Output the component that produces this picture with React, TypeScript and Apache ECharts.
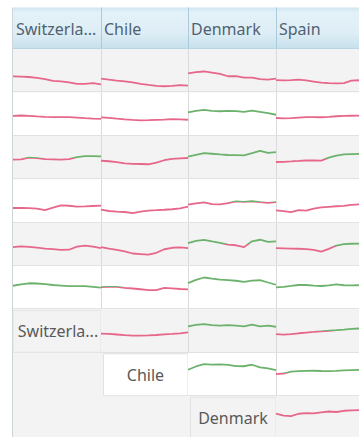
import { useEffect, useRef } from "react";
import * as echarts from "echarts";

const countries = ["Switzerland", "Chile", "Denmark", "Spain"];

// Sparkline levels (0-100 within their row), one list per row, per column country
const switzerlandLines = [
  [37, 36.3, 35.5, 33.5, 30.5, 26.5, 25.3, 23, 19.5, 19.8, 21.5, 18.6],
  [46, 46.8, 46, 44.8, 43.8, 43, 43, 43, 42, 40.8, 39.8, 39],
  [45, 45.5, 49.5, 48.7, 46.4, 45.8, 45.2, 46.2, 51, 53, 53.2, 52.7],
  [33.6, 33.6, 33.3, 32.4, 29, 34.5, 39.7, 38.8, 36.6, 37.3, 38.2, 38.9],
  [43.7, 45, 44.2, 42.2, 40.2, 39, 37, 37.5, 44.5, 46.8, 44.5, 41.4],
  [54.5, 57.8, 60.2, 59.7, 58, 56.2, 54.8, 53.4, 53.5, 53.4, 52, 50],
];
const switzerlandThresholds = [100, 100, 48, 100, 100, 0];

const chileLines = [
  [31.5, 29.2, 27.2, 25.4, 23.3, 19.5, 17.2, 15.1, 14.2, 15, 16.9, 15.4],
  [42.5, 41.4, 39.6, 38, 36.5, 35.7, 36, 36.8, 37.3, 38.6, 38, 37],
  [42.5, 41.4, 39.4, 36.6, 35.5, 35, 34.4, 38, 43.7, 47, 48, 48.8],
  [29.7, 26.7, 25.2, 24.4, 22, 25.5, 27.8, 28.6, 29.6, 30.8, 33, 36.6],
  [43.7, 40, 37.4, 33.5, 28.8, 27.5, 26.2, 30.5, 38.6, 42, 42.8, 41.4],
  [51.5, 52, 51.8, 49.8, 48.2, 46.4, 44.5, 44.2, 49.5, 48.5, 47, 46.2],
  [44, 43.4, 42.2, 40.8, 39.7, 39.5, 40.1, 41, 42.5, 43.5, 44.8, 47.2],
];
const chileThresholds = [100, 100, 100, 100, 100, 51, 100];

const denmarkLines = [
  [44, 46.5, 48.2, 45.5, 42.5, 37.2, 37.5, 34, 34, 30.5, 29.2, 31.5],
  [54, 57.5, 59.8, 57.4, 56.6, 57.2, 57, 55.2, 58, 55, 52, 48.5],
  [51.8, 56, 60, 58.6, 57, 55.8, 55.5, 55, 60, 65.5, 60.5, 62.6],
  [41.2, 44.5, 46.5, 42.8, 41.8, 44.8, 49, 47.8, 49.2, 47.2, 45.5, 47.4],
  [52.9, 58, 60.3, 56.8, 53.5, 49.2, 47.8, 43.5, 57, 60.5, 55.6, 56.8],
  [60.7, 68, 73.5, 71, 68.8, 67.5, 66, 63.2, 66.5, 67.2, 62, 56.8],
  [61, 64.4, 66.2, 64, 62.5, 63.8, 62.5, 60.8, 65, 61, 62.5, 60],
  [61, 68.5, 73.8, 72.8, 73.5, 72, 69.5, 69, 72.5, 66.5, 64, 60.3],
];
const denmarkThresholds = [100, 0, 0, 48.5, 51, 0, 0, 0];

const spainLines = [
  [28.5, 27.9, 28.2, 29.6, 27.5, 25, 22.5, 21.4, 20.9, 21.5, 27, 28],
  [41, 40.3, 40.8, 42, 43, 43, 42.7, 43.8, 45, 45.7, 46.2, 46.5],
  [39.6, 40.1, 41, 42, 43.1, 43.3, 43, 49.5, 54.5, 57.2, 58, 58.3],
  [28.3, 26.5, 24.2, 28.7, 27.6, 32, 35, 36.4, 37.7, 38.5, 41, 42],
  [41.4, 40.8, 40, 39.8, 39, 37, 33, 39.5, 47.2, 50.3, 51.3, 51.5],
  [50.8, 52, 54, 56.2, 56.2, 54.8, 53.9, 55.3, 57.5, 55.6, 55.4, 55.6],
  [43.2, 41.8, 42.8, 45, 46.5, 48, 49.6, 50.8, 52.1, 53.5, 55.3, 56],
  [51, 52.3, 56.5, 57.7, 58.5, 58.6, 58.1, 58, 58.5, 59.5, 60.3, 60.5],
  [57.3, 52.5, 51, 57, 58.7, 57.8, 60.5, 62.5, 61.3, 64.3, 65.5, 66],
];
const spainThresholds = [100, 100, 46, 100, 45, 45, 51, 52.5, 100];

const columnLines = [switzerlandLines, chileLines, denmarkLines, spainLines];
const columnThresholds = [switzerlandThresholds, chileThresholds, denmarkThresholds, spainThresholds];

const RED = "#e6678a";
const GREEN = "#6cb26c";

export default function App() {
  const ref = useRef<HTMLDivElement>(null);

  useEffect(() => {
    if (!ref.current) return;
    const chart = echarts.init(ref.current, undefined, { renderer: "svg" });

    const colX = [13, 101, 188, 276];
    const colW = [88, 87, 88, 88];
    const headerTop = 7.5;
    const bodyTop = 49;
    const rowH = 43.4;
    const rowTop = (r: number) => bodyTop + r * rowH;
    const font = "Noto Sans";
    const yMax = 100;

    const grids: any[] = [];
    const xAxes: any[] = [];
    const yAxes: any[] = [];
    const series: any[] = [];
    const graphics: any[] = [];

    graphics.push({
      type: "rect",
      shape: { x: 13, y: bodyTop, width: 360, height: 400 },
      style: { fill: "#f3f3f3" },
      z: 0,
    });

    countries.forEach((name, c) => {
      graphics.push({
        type: "rect",
        shape: { x: colX[c], y: headerTop, width: colW[c], height: bodyTop - headerTop },
        style: {
          fill: new echarts.graphic.LinearGradient(0, 0, 0, 1, [
            { offset: 0, color: "#cfe6f1" },
            { offset: 0.12, color: "#e3f1f8" },
            { offset: 0.6, color: "#dfeef6" },
            { offset: 1, color: "#c6e0ec" },
          ]),
        },
        z: 1,
      });
      graphics.push({
        type: "line",
        shape: { x1: colX[c] + colW[c] + 0.5, y1: headerTop, x2: colX[c] + colW[c] + 0.5, y2: bodyTop },
        style: { stroke: "#a9cbdb", lineWidth: 1 },
        z: 3,
      });
      graphics.push({
        type: "text",
        style: {
          text: name,
          x: colX[c] + 3,
          y: 29,
          fill: "#4f6272",
          font: `16px "${font}"`,
          width: colW[c] - 4,
          overflow: "truncate",
          ellipsis: "...",
          verticalAlign: "middle",
          align: "left",
        },
        z: 4,
      });
    });
    graphics.push({
      type: "line",
      shape: { x1: 13, y1: bodyTop - 0.5, x2: 364, y2: bodyTop - 0.5 },
      style: { stroke: "#b7d6e4", lineWidth: 1 },
      z: 3,
    });

    let si = 0;
    countries.forEach((name, c) => {
      const lines = columnLines[c];
      const thr = columnThresholds[c];
      lines.forEach((vals, r) => {
        const top = rowTop(r);
        graphics.push({
          type: "rect",
          shape: { x: colX[c], y: top, width: colW[c], height: rowH },
          style: { fill: r % 2 === 0 ? "#f3f3f3" : "#ffffff" },
          z: 1,
        });
        graphics.push({
          type: "line",
          shape: { x1: colX[c], y1: Math.round(top + rowH) - 0.5, x2: colX[c] + colW[c], y2: Math.round(top + rowH) - 0.5 },
          style: { stroke: "#e2e2e2", lineWidth: 1 },
          z: 2,
        });
        graphics.push({
          type: "line",
          shape: { x1: colX[c] + colW[c] + 0.5, y1: top, x2: colX[c] + colW[c] + 0.5, y2: top + rowH },
          style: { stroke: "#dadada", lineWidth: 1 },
          z: 2,
        });
        grids.push({ left: colX[c], top, width: colW[c], height: rowH });
        xAxes.push({
          type: "category",
          gridIndex: si,
          show: false,
          boundaryGap: false,
          data: vals.map((_, k) => String(k)),
        });
        yAxes.push({ type: "value", gridIndex: si, show: false, min: 0, max: yMax });
        const f = Math.min(1, Math.max(0, thr[r] / yMax));
        const color = new echarts.graphic.LinearGradient(
          0, top + rowH, 0, top,
          [
            { offset: 0, color: RED },
            { offset: f, color: RED },
            { offset: f, color: GREEN },
            { offset: 1, color: GREEN },
          ],
          true
        );
        series.push({
          type: "line",
          xAxisIndex: si,
          yAxisIndex: si,
          data: vals,
          showSymbol: false,
          silent: true,
          lineStyle: { width: 1.8, color },
          itemStyle: { color: f >= 1 ? RED : GREEN },
          z: 5,
        });
        si++;
      });
      const lr = lines.length;
      if (lr < 9) {
        const top = rowTop(lr);
        graphics.push({
          type: "rect",
          shape: { x: colX[c] + (c === 0 ? 0 : 2.5), y: top + 1, width: colW[c] - (c === 0 ? 0 : 2.5), height: rowH - 1.5 },
          style: { fill: lr % 2 === 0 ? "#f3f3f3" : "#ffffff", stroke: "#e2e2e2", lineWidth: 1 },
          z: 1,
        });
        graphics.push({
          type: "text",
          style: {
            text: name,
            x: colX[c] + colW[c] / 2 + 1,
            y: top + rowH / 2,
            fill: "#595959",
            font: `16px "${font}"`,
            width: colW[c] - 4,
            overflow: "truncate",
            ellipsis: "...",
            align: "center",
            verticalAlign: "middle",
          },
          z: 4,
        });
      }
    });

    graphics.push({
      type: "line",
      shape: { x1: 12.5, y1: headerTop, x2: 12.5, y2: 437 },
      style: { stroke: "#cfd6da", lineWidth: 1 },
      z: 3,
    });

    chart.setOption({
      animation: false,
      backgroundColor: "#ffffff",
      grid: grids,
      xAxis: xAxes,
      yAxis: yAxes,
      series,
      graphic: graphics,
    });

    return () => chart.dispose();
  }, []);

  return (
    <div
      ref={ref}
      style={{ position: "fixed", left: 0, top: 0, width: 359, height: 437 }}
    />
  );
}
